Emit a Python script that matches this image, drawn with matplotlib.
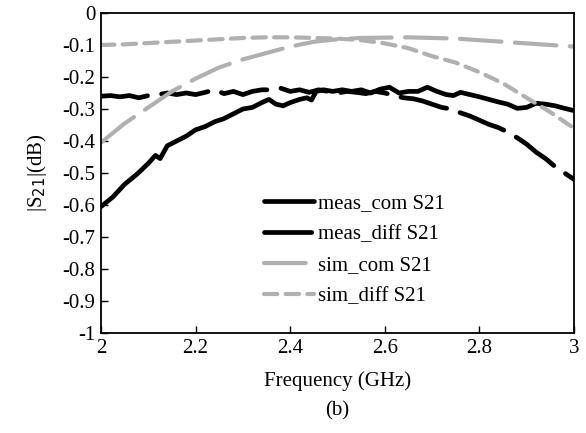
import matplotlib.pyplot as plt
import numpy as np
from matplotlib.ticker import FuncFormatter

plt.rcParams['font.family'] = ['Liberation Serif', 'DejaVu Serif']

# measured common-mode S21
f_meas_com = [2.000, 2.025, 2.050, 2.075, 2.100, 2.115, 2.125, 2.140, 2.160, 2.180,
              2.200, 2.220, 2.240, 2.260, 2.280, 2.300, 2.320, 2.340, 2.355, 2.370,
              2.385, 2.400, 2.420, 2.435, 2.445, 2.455, 2.470, 2.490, 2.510, 2.530,
              2.550, 2.570, 2.590, 2.610, 2.630, 2.650, 2.670, 2.690, 2.710, 2.730,
              2.745, 2.760, 2.780, 2.800, 2.820, 2.840, 2.860, 2.880, 2.900, 2.920,
              2.940, 2.960, 2.980, 3.000]
s_meas_com = [-0.605, -0.575, -0.535, -0.505, -0.470, -0.445, -0.455, -0.415, -0.400, -0.385,
              -0.365, -0.355, -0.340, -0.330, -0.315, -0.300, -0.295, -0.280, -0.270, -0.285,
              -0.290, -0.280, -0.270, -0.265, -0.272, -0.245, -0.240, -0.245, -0.240, -0.245,
              -0.240, -0.250, -0.238, -0.232, -0.250, -0.245, -0.245, -0.232, -0.245, -0.255,
              -0.258, -0.248, -0.255, -0.262, -0.270, -0.278, -0.285, -0.298, -0.295, -0.282,
              -0.285, -0.290, -0.298, -0.305]

# measured differential-mode S21
f_meas_diff = [2.00, 2.02, 2.04, 2.06, 2.08, 2.10, 2.12, 2.14, 2.16, 2.18,
               2.20, 2.22, 2.24, 2.26, 2.28, 2.30, 2.32, 2.34, 2.36, 2.38,
               2.40, 2.42, 2.44, 2.46, 2.48, 2.50, 2.52, 2.54, 2.56, 2.58,
               2.60, 2.62, 2.64, 2.66, 2.68, 2.70, 2.72, 2.74, 2.76, 2.78,
               2.80, 2.82, 2.84, 2.86, 2.88, 2.90, 2.92, 2.94, 2.96, 2.98, 3.00]
s_meas_diff = [-0.260, -0.258, -0.262, -0.258, -0.265, -0.258, -0.255, -0.250, -0.255, -0.250,
               -0.255, -0.248, -0.240, -0.252, -0.245, -0.255, -0.245, -0.240, -0.240, -0.235,
               -0.245, -0.240, -0.248, -0.240, -0.245, -0.250, -0.245, -0.248, -0.252, -0.245,
               -0.250, -0.258, -0.265, -0.268, -0.275, -0.285, -0.295, -0.300, -0.312, -0.322,
               -0.335, -0.348, -0.358, -0.372, -0.390, -0.410, -0.435, -0.455, -0.480, -0.500, -0.520]

# simulated curves
f_sim = [2.00, 2.05, 2.10, 2.15, 2.20, 2.25, 2.30, 2.35, 2.40, 2.45, 2.50,
         2.55, 2.60, 2.65, 2.70, 2.75, 2.80, 2.85, 2.90, 2.95, 3.00]
s_sim_com = [-0.405, -0.345, -0.295, -0.245, -0.205, -0.170, -0.145, -0.125, -0.105, -0.090, -0.082,
             -0.078, -0.077, -0.076, -0.078, -0.080, -0.085, -0.090, -0.095, -0.100, -0.105]
s_sim_diff = [-0.100, -0.098, -0.094, -0.090, -0.086, -0.082, -0.078, -0.076, -0.076, -0.078, -0.080,
              -0.085, -0.095, -0.110, -0.135, -0.155, -0.185, -0.220, -0.265, -0.310, -0.360]

gray = '#b0b0b0'

fig = plt.figure(figsize=(5.86, 4.33), dpi=100)
ax = fig.add_axes([0.1724, 0.2309, 0.8071, 0.7391])

ax.plot(f_meas_com, s_meas_com, color='black', lw=3.4, solid_capstyle='round',
        label='meas_com S21')
ax.plot(f_meas_diff, s_meas_diff, color='black', lw=3.4, dashes=(10, 3),
        dash_capstyle='round', label='meas_diff S21')
ax.plot(f_sim, s_sim_com, color=gray, lw=3.0, dashes=(10, 3.2),
        dash_capstyle='round', label='sim_com S21')
ax.plot(f_sim, s_sim_diff, color=gray, lw=3.0, dashes=(3.2, 2.0),
        dash_capstyle='round', label='sim_diff S21')

def ylab(v, p):
    v = round(v, 1)
    return '0' if v == 0 else f'{v:g}'

ax.set_xlim(2, 3)
ax.set_ylim(-1, 0)
ax.set_xticks(np.arange(2, 3.01, 0.2))
ax.set_yticks(np.arange(-1, 0.01, 0.1))
ax.xaxis.set_major_formatter(FuncFormatter(lambda v, p: f'{v:g}'))
ax.yaxis.set_major_formatter(FuncFormatter(ylab))
ax.tick_params(direction='in', length=5, width=1, labelsize=15, pad=4)
for sp in ax.spines.values():
    sp.set_linewidth(1.3)

ax.set_xlabel('Frequency (GHz)', fontsize=15, labelpad=10)
ax.set_ylabel('|S$_{21}$|(dB)', fontsize=15, labelpad=10)
fig.text(0.575, 0.052, '(b)', ha='center', va='center', fontsize=15)

ax.legend(loc='center', bbox_to_anchor=(0.535, 0.26), frameon=False, fontsize=15,
          handlelength=2.4, labelspacing=0.55, handletextpad=0.2)

fig.savefig('out.png', dpi=100)
